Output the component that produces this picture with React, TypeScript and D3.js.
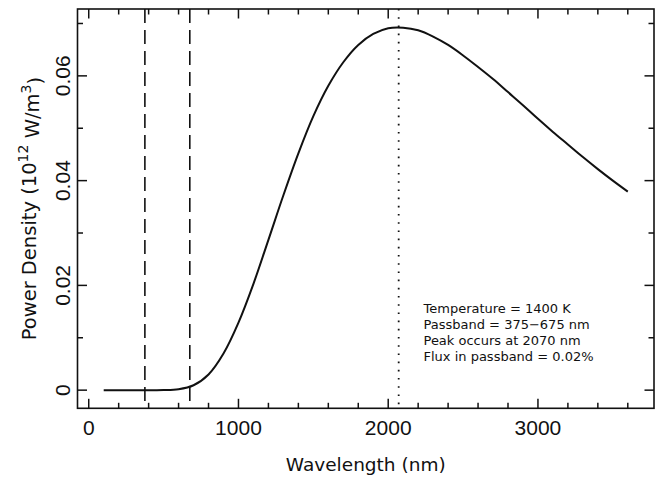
import React, { useEffect, useRef } from 'react'
import * as d3 from 'd3'

// wavelength samples (nm) and the power density (10^12 W/m^3)
const wavelengths = [
  100, 200, 300, 400, 500, 600, 700, 800, 900, 1000, 1100, 1200,
  1300, 1400, 1500, 1600, 1700, 1800, 1900, 2000, 2100, 2200, 2300, 2400,
  2500, 2600, 2700, 2800, 2900, 3000, 3100, 3200, 3300, 3400, 3500, 3600,
]
const powerDensity = [
  0, 0, 0, 0, 0.00001, 0.00018, 0.00094, 0.003, 0.007, 0.0129, 0.0203, 0.0287,
  0.0372, 0.0452, 0.0523, 0.0581, 0.0626, 0.0659, 0.068, 0.0691, 0.0692, 0.0687, 0.0675, 0.0659,
  0.0639, 0.0617, 0.0594, 0.0569, 0.0544, 0.0518, 0.0493, 0.0469, 0.0445, 0.0422, 0.04, 0.0379,
]
const passband = [375, 675]
const peakWavelength = 2070

const xMajorTicks = [0, 1000, 2000, 3000]
const xMinorTicks = [200, 400, 600, 800, 1200, 1400, 1600, 1800, 2200, 2400, 2600, 2800, 3200, 3400, 3600]
const yMajorTicks = [0, 0.02, 0.04, 0.06]
const yMinorTicks = [0.01, 0.03, 0.05, 0.07]

const notes = [
  'Temperature = 1400 K',
  'Passband = 375\u2212675 nm',
  'Peak occurs at 2070 nm',
  'Flux in passband = 0.02%',
]

const width = 665
const height = 481

export default function App() {
  const svgRef = useRef<SVGSVGElement>(null)

  useEffect(() => {
    const svg = d3.select(svgRef.current)
    svg.selectAll('*').remove()

    const left = 77.5
    const right = 654
    const top = 9
    const bottom = 408.3

    // 5% padding around the data range, like the original plot
    const xPad = (d3.max(wavelengths)! - d3.min(wavelengths)!) * 0.05
    const yPeak = 0.0693
    const x = d3.scaleLinear()
      .domain([d3.min(wavelengths)! - xPad, d3.max(wavelengths)! + xPad])
      .range([left, right])
    const y = d3.scaleLinear()
      .domain([-0.05 * yPeak, yPeak * 1.05])
      .range([bottom, top])

    const ink = '#111'

    // vertical guide lines
    passband.forEach(p => {
      svg.append('line')
        .attr('x1', x(p)).attr('x2', x(p))
        .attr('y1', top).attr('y2', bottom)
        .attr('stroke', ink)
        .attr('stroke-width', 1.6)
        .attr('stroke-dasharray', '14,7')
    })
    svg.append('line')
      .attr('x1', x(peakWavelength)).attr('x2', x(peakWavelength))
      .attr('y1', top).attr('y2', bottom)
      .attr('stroke', ink)
      .attr('stroke-width', 1.8)
      .attr('stroke-dasharray', '1.6,6.6')

    // curve
    const pts = wavelengths.map((w, i) => [w, powerDensity[i]] as [number, number])
    const line = d3.line<[number, number]>()
      .x(d => x(d[0]))
      .y(d => y(d[1]))
      .curve(d3.curveCatmullRom.alpha(0.5))
    svg.append('path')
      .datum(pts)
      .attr('d', line)
      .attr('fill', 'none')
      .attr('stroke', ink)
      .attr('stroke-width', 2)

    // frame
    svg.append('rect')
      .attr('x', left).attr('y', top)
      .attr('width', right - left).attr('height', bottom - top)
      .attr('fill', 'none')
      .attr('stroke', ink)
      .attr('stroke-width', 1.6)

    // inward ticks on all four sides
    const ticks = svg.append('g').attr('stroke', ink).attr('stroke-width', 1.5)
    const addX = (vals: number[], len: number) => {
      vals.forEach(v => {
        ticks.append('line').attr('x1', x(v)).attr('x2', x(v)).attr('y1', bottom).attr('y2', bottom - len)
        ticks.append('line').attr('x1', x(v)).attr('x2', x(v)).attr('y1', top).attr('y2', top + len)
      })
    }
    const addY = (vals: number[], len: number) => {
      vals.forEach(v => {
        ticks.append('line').attr('y1', y(v)).attr('y2', y(v)).attr('x1', left).attr('x2', left + len)
        ticks.append('line').attr('y1', y(v)).attr('y2', y(v)).attr('x1', right).attr('x2', right - len)
      })
    }
    addX(xMajorTicks, 9.5)
    addX(xMinorTicks, 5.5)
    addY(yMajorTicks, 9.5)
    addY(yMinorTicks, 5.5)

    const tickFont = '"Liberation Sans", Arial, sans-serif'
    const labelFont = '"DejaVu Sans", sans-serif'

    // tick labels
    svg.append('g').selectAll('text')
      .data(xMajorTicks)
      .enter().append('text')
      .attr('x', d => x(d))
      .attr('y', 435)
      .attr('text-anchor', 'middle')
      .style('font-family', tickFont)
      .style('font-size', '21px')
      .attr('fill', ink)
      .text(d => String(d))

    svg.append('g').selectAll('text')
      .data(yMajorTicks)
      .enter().append('text')
      .attr('transform', d => `translate(70,${y(d)}) rotate(-90)`)
      .attr('text-anchor', 'middle')
      .style('font-family', tickFont)
      .style('font-size', '21px')
      .attr('fill', ink)
      .text(d => (d === 0 ? '0' : String(d)))

    // axis titles
    svg.append('text')
      .attr('x', (left + right) / 2)
      .attr('y', 470.5)
      .attr('text-anchor', 'middle')
      .style('font-family', labelFont)
      .style('font-size', '18.5px')
      .attr('fill', ink)
      .text('Wavelength (nm)')

    const yl = svg.append('text')
      .attr('transform', `translate(36,${(top + bottom) / 2}) rotate(-90)`)
      .attr('text-anchor', 'middle')
      .style('font-family', labelFont)
      .style('font-size', '19.5px')
      .attr('fill', ink)
    yl.append('tspan').text('Power Density (10')
    yl.append('tspan').attr('dy', '-0.55em').style('font-size', '14px').text('12')
    yl.append('tspan').attr('dy', '0.55em').text(' W/m')
    yl.append('tspan').attr('dy', '-0.55em').style('font-size', '14px').text('3')
    yl.append('tspan').attr('dy', '0.55em').text(')')

    // annotation block
    svg.append('g').selectAll('text')
      .data(notes)
      .enter().append('text')
      .attr('x', 423.5)
      .attr('y', (d, i) => 313.3 + i * 16)
      .style('font-family', labelFont)
      .style('font-size', '13px')
      .attr('fill', ink)
      .text(d => d)
  }, [])

  return (
    <svg
      ref={svgRef}
      width={width}
      height={height}
      style={{ position: 'absolute', left: 0, top: 0, background: '#fff' }}
    />
  )
}
